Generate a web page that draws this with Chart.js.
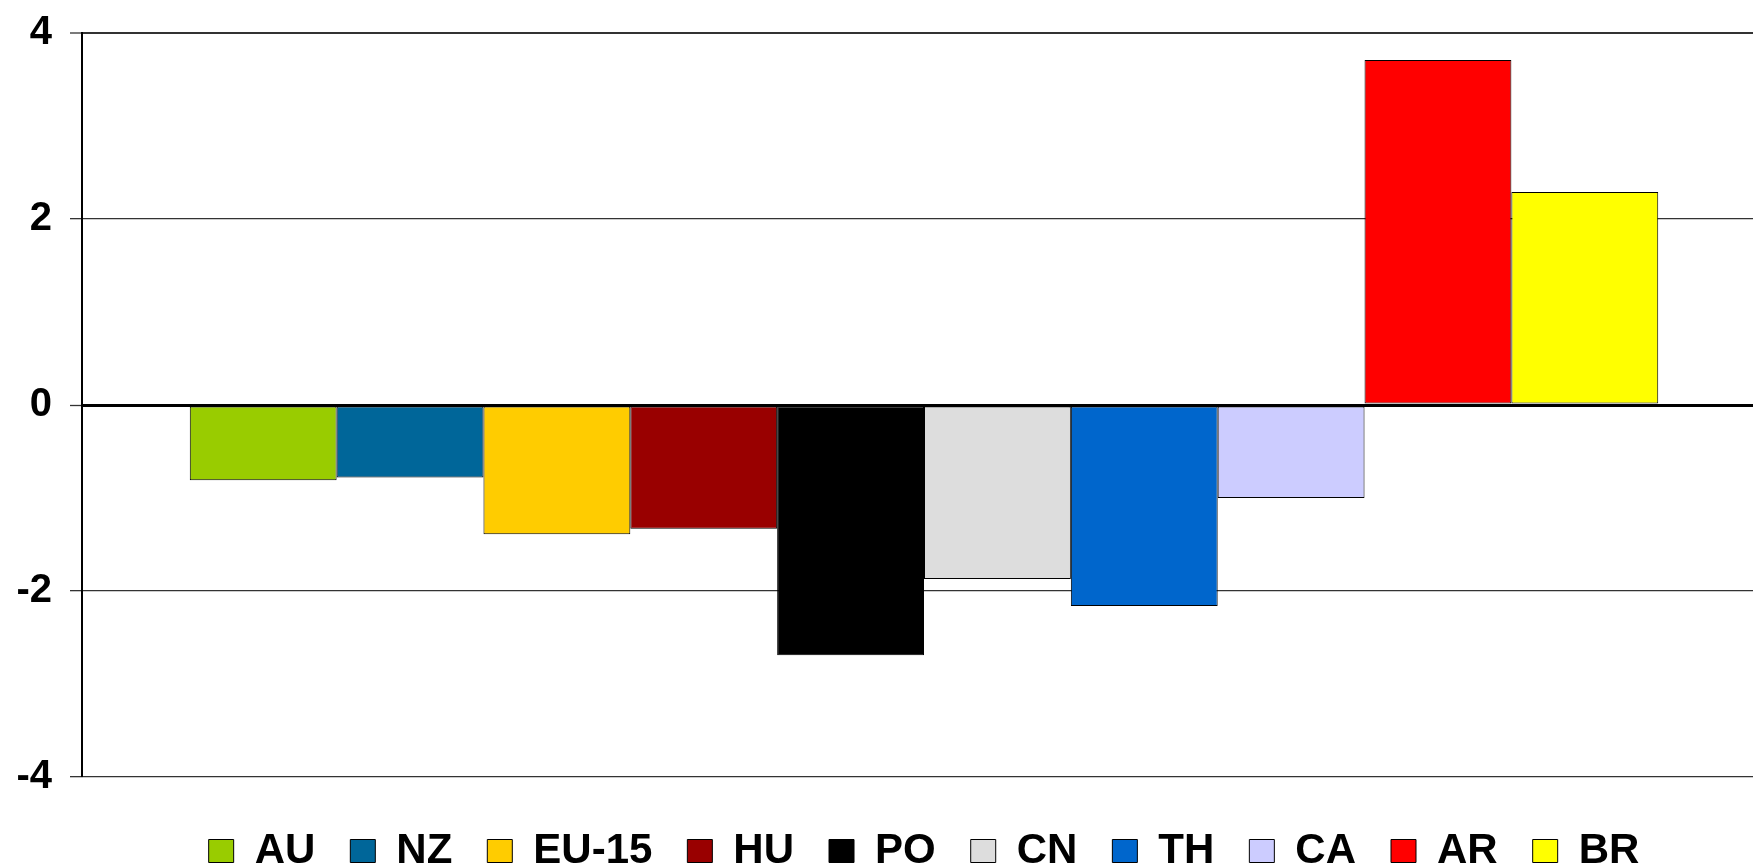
<!DOCTYPE html>
<html>
<head>
<meta charset="utf-8">
<script src="https://cdn.jsdelivr.net/npm/chart.js@4/dist/chart.umd.min.js"></script>
<style>
  html, body { margin: 0; padding: 0; background: #fff; overflow: hidden; }
  /* the plot runs a little past the right edge of the picture, like the original */
  #wrap { width: 1753px; height: 866px; overflow: hidden; }
</style>
</head>
<body>
<div id="wrap"><canvas id="myChart" width="1766" height="882"></canvas></div>
<script>
// data
var countries = ["AU", "NZ", "EU-15", "HU", "PO", "CN", "TH", "CA", "AR", "BR"];
var values = [-0.81, -0.78, -1.39, -1.33, -2.69, -1.87, -2.16, -1.0, 3.71, 2.29];
var colors = ["#99CC00", "#006699", "#FFCC00", "#990000", "#000000", "#DDDDDD", "#0066CC", "#CCCCFF", "#FF0000", "#FFFF00"];
var yTicks = [-4, -2, 0, 2, 4];

Chart.defaults.color = '#000';
Chart.defaults.font.family = '"Liberation Sans", Arial, sans-serif';

var datasets = countries.map(function (name, i) {
  return {
    label: name,
    data: [values[i]],
    backgroundColor: colors[i],
    borderColor: '#000',
    borderWidth: 1,
    borderSkipped: false,
    barPercentage: 1,
    categoryPercentage: 0.872
  };
});

var ctx = document.getElementById("myChart");
var myChart = new Chart(ctx, {
  type: 'bar',
  data: {
    labels: [""],
    datasets: datasets
  },
  options: {
    responsive: false,
    animation: false,
    layout: {
      padding: { top: 0, right: 0, bottom: 0, left: 0 }
    },
    plugins: {
      tooltip: { enabled: false },
      legend: {
        position: 'bottom',
        fullSize: false,
        labels: {
          boxWidth: 25,
          boxHeight: 23,
          padding: 35,
          font: { size: 42, weight: 'bold' }
        }
      }
    },
    scales: {
      x: {
        // only used as a gap between plot and legend
        grid: { display: false },
        border: { display: false },
        ticks: { display: false },
        afterFit: function (scale) { scale.height = 18; }
      },
      y: {
        min: -4,
        max: 4,
        afterFit: function (scale) { scale.width = 82; },
        afterBuildTicks: function (scale) {
          scale.ticks = yTicks.map(function (v) { return { value: v }; });
        },
        border: { display: true, color: '#000', width: 2 },
        grid: {
          color: function (c) {
            if (c.tick && c.tick.value === 0) return '#000';
            return '#333';
          },
          lineWidth: function (c) {
            if (c.tick && c.tick.value === 0) return 3;
            if (c.tick && c.tick.value === 4) return 2;
            return 1.3;
          },
          tickColor: '#333',
          tickWidth: 1.3,
          tickLength: 12
        },
        ticks: {
          padding: 18,
          font: { size: 40, weight: 'bold', lineHeight: 0.75 },
          color: '#000'
        }
      }
    }
  }
});
</script>
</body>
</html>
